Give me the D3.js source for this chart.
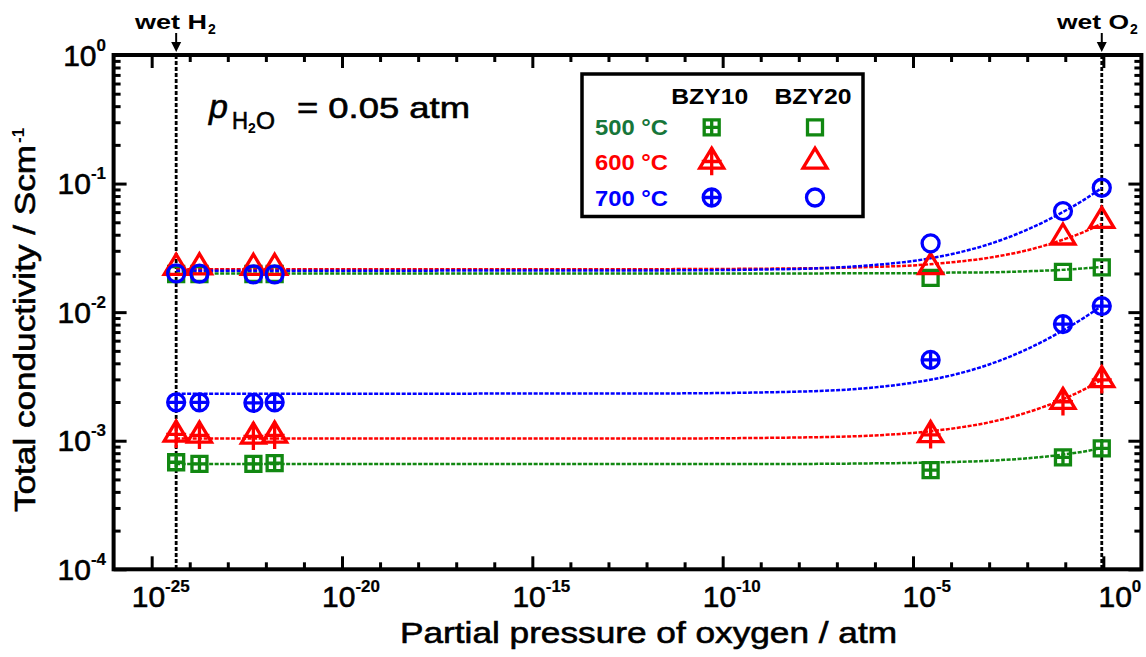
<!DOCTYPE html>
<html><head><meta charset="utf-8">
<script src="https://cdn.jsdelivr.net/npm/d3@7"></script>
<style>
html,body{margin:0;padding:0;background:#fff;}
svg{display:block;font-family:"Liberation Sans",Arial,sans-serif;}
</style></head>
<body><svg id="chart" width="1146" height="657"></svg>
<script>
// ---------- data ----------
const xTickExps = [-25, -20, -15, -10, -5, 0];
const yTickExps = [0, -1, -2, -3, -4];
const pO2 = [4.4e-25, 1.8e-24, 4.7e-23, 1.7e-22, 2.9e-5, 0.087, 0.91];
const bzy10_500 = [0.00068, 0.00066, 0.00066, 0.00067, 0.000591, 0.000743, 0.000873];
const bzy10_600 = [0.00112, 0.00110, 0.00108, 0.00110, 0.00111, 0.00201, 0.00297];
const bzy10_700 = [0.00199, 0.00199, 0.00197, 0.00199, 0.00425, 0.00808, 0.01115];
const bzy20_500 = [0.0198, 0.0198, 0.0198, 0.0198, 0.0185, 0.0206, 0.0223];
const bzy20_600 = [0.0222, 0.0224, 0.0222, 0.0222, 0.0225, 0.0382, 0.0514];
const bzy20_700 = [0.0200, 0.0199, 0.0197, 0.0197, 0.0343, 0.0611, 0.0928];
// fitted curves
const fitP = [4.4e-25, 1e-12, 1e-8, 1e-6, 1e-5, 1e-4, 1e-3, 1e-2, 0.1, 0.316, 0.91];
const fit10_500 = [0.00066, 0.00066, 0.00066, 0.000667, 0.000672, 0.000682, 0.000699, 0.00073, 0.000784, 0.000825, 0.00088];
const fit10_600 = [0.00104, 0.00104, 0.00106, 0.0011, 0.00115, 0.00124, 0.00139, 0.00166, 0.00214, 0.00251, 0.00298];
const fit10_700 = [0.00232, 0.00233, 0.00241, 0.0026, 0.00283, 0.00322, 0.00392, 0.00516, 0.00738, 0.00907, 0.0112];
const fit20_500 = [0.0200, 0.0200, 0.0200, 0.0201, 0.0201, 0.0203, 0.0204, 0.0208, 0.0214, 0.0219, 0.0225];
const fit20_600 = [0.0216, 0.0216, 0.0219, 0.0225, 0.0231, 0.0244, 0.0265, 0.0303, 0.0371, 0.0422, 0.0488];
const fit20_700 = [0.0210, 0.0211, 0.0217, 0.0233, 0.0250, 0.0282, 0.0338, 0.0438, 0.0615, 0.0750, 0.0925];
const wetLines = [4.4e-25, 0.91];
const temps = ["500 °C", "600 °C", "700 °C"];
const samples = ["BZY10", "BZY20"];

const GREEN = "#118811", GREEN_TXT = "#17763a", RED = "#ff0000", BLUE = "#0000ff";
const series = [
  {v: bzy20_500, fit: fit20_500, c: GREEN, m: "sq", filled: false},
  {v: bzy20_600, fit: fit20_600, c: RED, m: "tri", filled: false},
  {v: bzy20_700, fit: fit20_700, c: BLUE, m: "ci", filled: false},
  {v: bzy10_500, fit: fit10_500, c: GREEN, m: "sq", filled: true},
  {v: bzy10_600, fit: fit10_600, c: RED, m: "tri", filled: true},
  {v: bzy10_700, fit: fit10_700, c: BLUE, m: "ci", filled: true},
];

// ---------- scales ----------
const svg = d3.select("#chart");
const L = 113.6, R = 1141.4, T = 55, B = 569.3;
const x = d3.scaleLog().domain([1e-26, 1e1]).range([L, R]);
const y = d3.scaleLog().domain([1e-4, 1]).range([B, T]);
const THICK = 0.6; // text outline to match heavier reference glyphs

// ---------- markers ----------
function markerPath(m, plus) {
  const p = d3.path();
  if (m === "sq") {
    const s = 7.5;
    p.rect(-s, -s, 2 * s, 2 * s);
    if (plus) { p.moveTo(0, -s); p.lineTo(0, s); p.moveTo(-s, 0); p.lineTo(s, 0); }
  } else if (m === "ci") {
    const r = 8.5;
    p.moveTo(r, 0); p.arc(0, 0, r, 0, 2 * Math.PI);
    if (plus) { p.moveTo(0, -r); p.lineTo(0, r); p.moveTo(-r, 0); p.lineTo(r, 0); }
  } else {
    const w = 24, h = 20;
    p.moveTo(0, -h * 2 / 3); p.lineTo(w / 2, h / 3); p.lineTo(-w / 2, h / 3); p.closePath();
    if (plus) { p.moveTo(0, -h * 2 / 3 - 1); p.lineTo(0, h / 3 + 7); p.moveTo(-10, 0); p.lineTo(10, 0); }
  }
  return p.toString();
}

// ---------- vertical wet lines ----------
svg.selectAll("line.wet").data(wetLines).join("line")
  .attr("x1", d => x(d)).attr("x2", d => x(d)).attr("y1", T).attr("y2", B)
  .attr("stroke", "#000").attr("stroke-width", 2.8).attr("stroke-dasharray", "4,2");

// ---------- fits ----------
const line = d3.line().x((d, i) => x(fitP[i])).y(d => y(d)).curve(d3.curveMonotoneX);
series.forEach(s => {
  svg.append("path").attr("d", line(s.fit)).attr("fill", "none")
    .attr("stroke", s.c).attr("stroke-width", 2.5).attr("stroke-dasharray", "4,1.5");
});

// ---------- points ----------
series.forEach(s => {
  svg.append("g").selectAll("path").data(s.v).join("path")
    .attr("transform", (d, i) => `translate(${x(pO2[i])},${y(d)})`)
    .attr("d", markerPath(s.m, s.filled))
    .attr("fill", "none").attr("stroke", s.c).attr("stroke-width", 3.3);
});

// ---------- axes ----------
const majX = xTickExps.map(e => Math.pow(10, e));
const minX = d3.range(-25, 1).filter(e => !xTickExps.includes(e)).map(e => Math.pow(10, e));
const majY = yTickExps.map(e => Math.pow(10, e));
const minY = [];
[-4, -3, -2, -1].forEach(e => { for (let k = 2; k <= 9; k++) minY.push(k * Math.pow(10, e)); });

function ax(gen, vals, size, tr) {
  const g = svg.append("g").attr("transform", tr)
    .call(gen.tickValues(vals).tickSize(-size).tickFormat(""));
  g.select(".domain").remove();
  g.selectAll(".tick line").attr("stroke", "#000").attr("stroke-width", 3);
}
ax(d3.axisBottom(x), majX, 13, `translate(0,${B})`);
ax(d3.axisBottom(x), minX, 7, `translate(0,${B})`);
ax(d3.axisTop(x), majX, 13, `translate(0,${T})`);
ax(d3.axisTop(x), minX, 7, `translate(0,${T})`);
ax(d3.axisLeft(y), majY, 13, `translate(${L},0)`);
ax(d3.axisLeft(y), minY, 7, `translate(${L},0)`);
ax(d3.axisRight(y), majY, 13, `translate(${R},0)`);
ax(d3.axisRight(y), minY, 7, `translate(${R},0)`);

svg.append("rect").attr("x", L).attr("y", T).attr("width", R - L).attr("height", B - T)
  .attr("fill", "none").attr("stroke", "#000").attr("stroke-width", 4);

// tick labels
function powLabel(sel, e) {
  sel.attr("stroke", "#000").attr("stroke-width", THICK);
  sel.append("tspan").text("10").attr("font-size", 30);
  sel.append("tspan").text(String(e)).attr("font-size", 17)
    .attr("font-weight", "bold").attr("dy", -15).attr("stroke-width", 0.2);
}
xTickExps.forEach(e => {
  const t = svg.append("text").attr("x", x(Math.pow(10, e)) + 38).attr("y", 607)
    .attr("text-anchor", "end");
  powLabel(t, e);
});
yTickExps.forEach(e => {
  const t = svg.append("text").attr("x", 106).attr("y", y(Math.pow(10, e)) + 10.5)
    .attr("text-anchor", "end");
  powLabel(t, e);
});

// axis titles
svg.append("text").attr("x", 400).attr("y", 643).attr("font-size", 30)
  .attr("stroke", "#000").attr("stroke-width", THICK)
  .attr("textLength", 497).attr("lengthAdjust", "spacingAndGlyphs")
  .text("Partial pressure of oxygen / atm");
const yt = svg.append("g").attr("transform", "translate(35,512) rotate(-90)");
yt.append("text").attr("x", 0).attr("y", 0).attr("font-size", 30)
  .attr("stroke", "#000").attr("stroke-width", THICK)
  .attr("textLength", 367).attr("lengthAdjust", "spacingAndGlyphs")
  .text("Total conductivity / Scm");
yt.append("text").attr("x", 369).attr("y", -11).attr("font-size", 17).attr("font-weight", "bold").text("-1");

// p H2O annotation
const ann = svg.append("g").attr("stroke", "#000").attr("stroke-width", THICK);
ann.append("text").attr("x", 209).attr("y", 118).attr("font-size", 34).attr("font-style", "italic").text("p");
ann.append("text").attr("x", 232).attr("y", 129).attr("font-size", 23).attr("textLength", 16).attr("lengthAdjust", "spacingAndGlyphs").text("H");
ann.append("text").attr("x", 248).attr("y", 133).attr("font-size", 14).attr("font-weight", "bold").attr("stroke-width", 0).text("2");
ann.append("text").attr("x", 256).attr("y", 129).attr("font-size", 23).attr("textLength", 19).attr("lengthAdjust", "spacingAndGlyphs").text("O");
ann.append("text").attr("x", 297).attr("y", 118).attr("font-size", 30)
  .attr("textLength", 173).attr("lengthAdjust", "spacingAndGlyphs").text("= 0.05 atm");

// wet labels and arrows
const wetText = [["wet H", 135], ["wet O", 1057]];
wetText.forEach((w, i) => {
  svg.append("text").attr("x", w[1]).attr("y", 29).attr("font-size", 21).attr("font-weight", "bold")
    .attr("textLength", 72).attr("lengthAdjust", "spacingAndGlyphs").text(w[0]);
  svg.append("text").attr("x", w[1] + 73).attr("y", 33.5).attr("font-size", 14).attr("font-weight", "bold").text("2");
  const xx = x(wetLines[i]);
  svg.append("line").attr("x1", xx).attr("x2", xx).attr("y1", 33).attr("y2", 44)
    .attr("stroke", "#000").attr("stroke-width", 2);
  svg.append("path").attr("d", `M${xx - 5},42 L${xx + 5},42 L${xx},52 Z`).attr("fill", "#000");
});

// ---------- legend ----------
const lg = svg.append("g");
lg.append("rect").attr("x", 582).attr("y", 74).attr("width", 281).attr("height", 142.5)
  .attr("fill", "#fff").attr("stroke", "#000").attr("stroke-width", 3.5);
const colX = [711.7, 815];
samples.forEach((s, i) => {
  lg.append("text").attr("x", colX[i] - 2).attr("y", 104).attr("text-anchor", "middle")
    .attr("font-size", 22).attr("font-weight", "bold")
    .attr("textLength", 77).attr("lengthAdjust", "spacingAndGlyphs").text(s);
});
const rowY = [127.3, 161.5, 197.5];
const rowC = [GREEN_TXT, RED, BLUE];
const rowM = ["sq", "tri", "ci"];
const mCol = [GREEN, RED, BLUE];
temps.forEach((t, i) => {
  lg.append("text").attr("x", 595).attr("y", rowY[i] + 8).attr("font-size", 22).attr("font-weight", "bold")
    .attr("fill", rowC[i]).attr("textLength", 73).attr("lengthAdjust", "spacingAndGlyphs").text(t);
  [true, false].forEach((plus, j) => {
    lg.append("path").attr("transform", `translate(${colX[j]},${rowY[i]})`)
      .attr("d", markerPath(rowM[i], plus)).attr("fill", "none")
      .attr("stroke", mCol[i]).attr("stroke-width", 3.3);
  });
});
</script></body></html>
